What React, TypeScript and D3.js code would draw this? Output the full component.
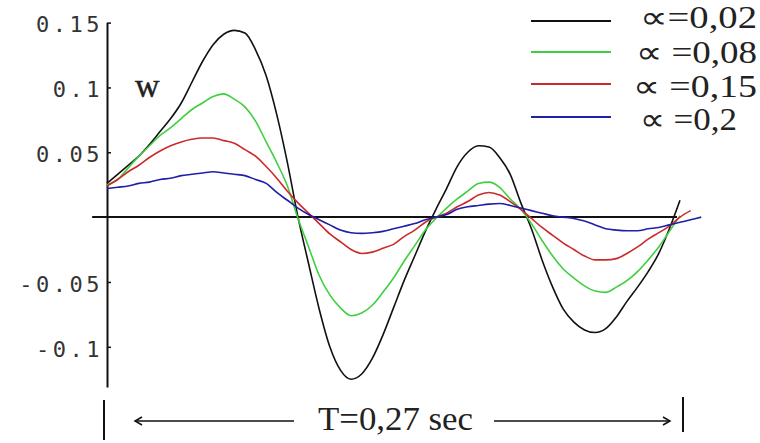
import React, { useEffect, useRef } from "react";
import * as d3 from "d3";

// sample times, sec
const times = [
  0, 0.005, 0.01, 0.015, 0.02, 0.025, 0.03, 0.035, 0.04, 0.045,
  0.05, 0.055, 0.06, 0.065, 0.07, 0.075, 0.08, 0.085, 0.09, 0.095,
  0.1, 0.105, 0.11, 0.115, 0.12, 0.125, 0.13, 0.135, 0.14, 0.145,
  0.15, 0.155, 0.16, 0.165, 0.17, 0.175, 0.18, 0.185, 0.19, 0.195,
  0.2, 0.205, 0.21, 0.215, 0.22, 0.225, 0.23, 0.235, 0.24, 0.245,
  0.25, 0.255, 0.26, 0.265, 0.27, 0.275, 0.28,
];

// w for alpha = 0.02
const wAlpha002 = [
  0.026, 0.033, 0.04, 0.047, 0.056, 0.066, 0.076, 0.088, 0.104, 0.12,
  0.133, 0.141, 0.144, 0.142, 0.129, 0.109, 0.079, 0.042, 0.0, -0.036,
  -0.071, -0.1, -0.118, -0.125, -0.121, -0.109, -0.091, -0.07, -0.049, -0.03,
  -0.011, 0.006, 0.022, 0.039, 0.05, 0.055, 0.054, 0.046, 0.033, 0.011,
  -0.009, -0.033, -0.054, -0.071, -0.081, -0.087, -0.089, -0.086, -0.077, -0.065,
  -0.054, -0.042, -0.028, -0.009, 0.013,
];

// w for alpha = 0.08
const wAlpha008 = [
  0.025, 0.029, 0.038, 0.047, 0.055, 0.063, 0.069, 0.076, 0.083, 0.088,
  0.093, 0.095, 0.091, 0.085, 0.074, 0.058, 0.042, 0.024, -0.001, -0.023,
  -0.045, -0.06, -0.07, -0.076, -0.074, -0.068, -0.058, -0.047, -0.034, -0.022,
  -0.01, -0.001, 0.007, 0.014, 0.02, 0.026, 0.027, 0.023, 0.014, 0.006,
  -0.005, -0.018, -0.03, -0.04, -0.047, -0.053, -0.057, -0.058, -0.054, -0.049,
  -0.042, -0.033, -0.023, -0.011, 0.001,
];

// w for alpha = 0.15
const wAlpha015 = [
  0.024, 0.029, 0.035, 0.04, 0.046, 0.051, 0.055, 0.058, 0.06, 0.061,
  0.061, 0.059, 0.057, 0.052, 0.047, 0.039, 0.03, 0.02, 0.011, 0.003,
  -0.005, -0.013, -0.019, -0.025, -0.028, -0.027, -0.024, -0.021, -0.015, -0.01,
  -0.004, 0.0, 0.003, 0.008, 0.012, 0.017, 0.019, 0.017, 0.012, 0.006,
  -0.001, -0.008, -0.014, -0.02, -0.025, -0.03, -0.033, -0.033, -0.032, -0.028,
  -0.023, -0.017, -0.012, -0.007, 0.0, 0.005,
];

// w for alpha = 0.2
const wAlpha02 = [
  0.022, 0.023, 0.024, 0.026, 0.027, 0.029, 0.03, 0.032, 0.033, 0.034,
  0.035, 0.034, 0.033, 0.032, 0.029, 0.026, 0.019, 0.013, 0.007, 0.002,
  -0.002, -0.006, -0.01, -0.012, -0.0125, -0.012, -0.011, -0.009, -0.007, -0.005,
  -0.002, 0.0, 0.002, 0.006, 0.008, 0.009, 0.01, 0.0105, 0.009, 0.007,
  0.005, 0.003, 0.001, 0.0, -0.001, -0.003, -0.006, -0.009, -0.01, -0.0105,
  -0.0105, -0.009, -0.008, -0.006, -0.004, -0.002, 0.0,
];

const seriesValues = [wAlpha002, wAlpha008, wAlpha015, wAlpha02];
const seriesLabels = ["∝=0,02", "∝ =0,08", "∝ =0,15", "∝ =0,2"];
const seriesColors = ["#111111", "#3fcf3f", "#cc2a2a", "#1f1fa8"];

const yTicks = [0.15, 0.1, 0.05, -0.05, -0.1];
const yTickLabels = ["0.15", "0.1", "0.05", "-0.05", "-0.1"];

const period = 0.27;
const periodLabel = "T=0,27 sec";

function App() {
  const svgRef = useRef(null);

  useEffect(() => {
    const svg = d3.select(svgRef.current);
    svg.selectAll("*").remove();

    const x = d3.scaleLinear().domain([0, period]).range([107, 680]);
    const y = d3.scaleLinear().domain([-0.131, 0.15]).range([387, 22.6]);

    // y axis: ticks point right, labels on the left
    const yAxis = d3
      .axisLeft(y)
      .tickValues(yTicks)
      .tickFormat((d, i) => yTickLabels[i])
      .tickSizeInner(-4)
      .tickSizeOuter(0)
      .tickPadding(4);
    const gy = svg.append("g").attr("transform", `translate(${x(0)},0)`).call(yAxis);
    gy.select(".domain").attr("stroke", "#111").attr("stroke-width", 2);
    gy.selectAll(".tick line").attr("stroke", "#111").attr("stroke-width", 1.5);
    gy.selectAll(".tick text")
      .attr("fill", "#333")
      .attr("font-family", "'DejaVu Sans Mono', monospace")
      .attr("font-size", 22)
      .attr("letter-spacing", 3.5)
      .attr("dy", "0.42em");

    // zero line
    svg.append("line")
      .attr("x1", x(-0.007)).attr("x2", x(0.2686))
      .attr("y1", y(0)).attr("y2", y(0))
      .attr("stroke", "#111").attr("stroke-width", 2);

    svg.append("text")
      .attr("x", 135).attr("y", 97)
      .attr("font-family", "'Liberation Serif', serif")
      .attr("font-size", 34)
      .attr("fill", "#222")
      .attr("stroke", "#222")
      .attr("stroke-width", 0.4)
      .text("w");

    const line = d3
      .line()
      .x((d) => x(d[0]))
      .y((d) => y(d[1]))
      .curve(d3.curveMonotoneX);

    svg.selectAll(".curve")
      .data(seriesValues)
      .join("path")
      .attr("class", "curve")
      .attr("fill", "none")
      .attr("stroke", (d, i) => seriesColors[i])
      .attr("stroke-width", 1.6)
      .attr("d", (vals) => line(vals.map((v, i) => [times[i], v])));

    // legend
    const legendRows = [21, 52, 84, 117];
    const lg = svg.selectAll(".legend")
      .data(seriesLabels)
      .join("g")
      .attr("class", "legend")
      .attr("transform", (d, i) => `translate(0,${legendRows[i]})`);
    lg.append("line")
      .attr("x1", 531).attr("x2", 611)
      .attr("stroke", (d, i) => seriesColors[i])
      .attr("stroke-width", 2);
    lg.append("text")
      .attr("x", (d, i) => [640, 636, 633, 640][i])
      .attr("y", (d, i) => [7, 11, 13, 13][i])
      .attr("font-family", "'Liberation Serif', serif")
      .attr("font-size", 31)
      .attr("fill", "#222")
      .attr("textLength", (d, i) => [117, 121, 124, 97][i])
      .attr("lengthAdjust", "spacingAndGlyphs")
      .text((d) => d);

    // period annotation
    const ay = 421;
    const left = x(0) - 3;
    const right = x(period) + 3;
    const ann = svg.append("g").attr("stroke", "#111").attr("fill", "none");
    ann.append("line").attr("x1", left).attr("x2", left).attr("y1", 400).attr("y2", 440).attr("stroke-width", 2);
    ann.append("line").attr("x1", right).attr("x2", right).attr("y1", 397).attr("y2", 432).attr("stroke-width", 2);
    ann.append("line").attr("x1", left + 31).attr("x2", 294).attr("y1", ay).attr("y2", ay).attr("stroke-width", 1.5);
    ann.append("line").attr("x1", 494).attr("x2", right - 13).attr("y1", ay).attr("y2", ay).attr("stroke-width", 1.5);
    ann.append("path")
      .attr("d", `M${left + 38},${ay - 4}L${left + 31},${ay}L${left + 38},${ay + 4}`)
      .attr("stroke-width", 1.5);
    ann.append("path")
      .attr("d", `M${right - 20},${ay - 4}L${right - 13},${ay}L${right - 20},${ay + 4}`)
      .attr("stroke-width", 1.5);
    svg.append("text")
      .attr("x", 318).attr("y", 430)
      .attr("font-family", "'Liberation Serif', serif")
      .attr("font-size", 33)
      .attr("fill", "#222")
      .attr("textLength", 155)
      .attr("lengthAdjust", "spacingAndGlyphs")
      .text(periodLabel);
  }, []);

  return (
    <svg
      ref={svgRef}
      width={760}
      height={443}
      style={{ position: "absolute", left: 0, top: 0, background: "#fff" }}
    />
  );
}

export default App;
